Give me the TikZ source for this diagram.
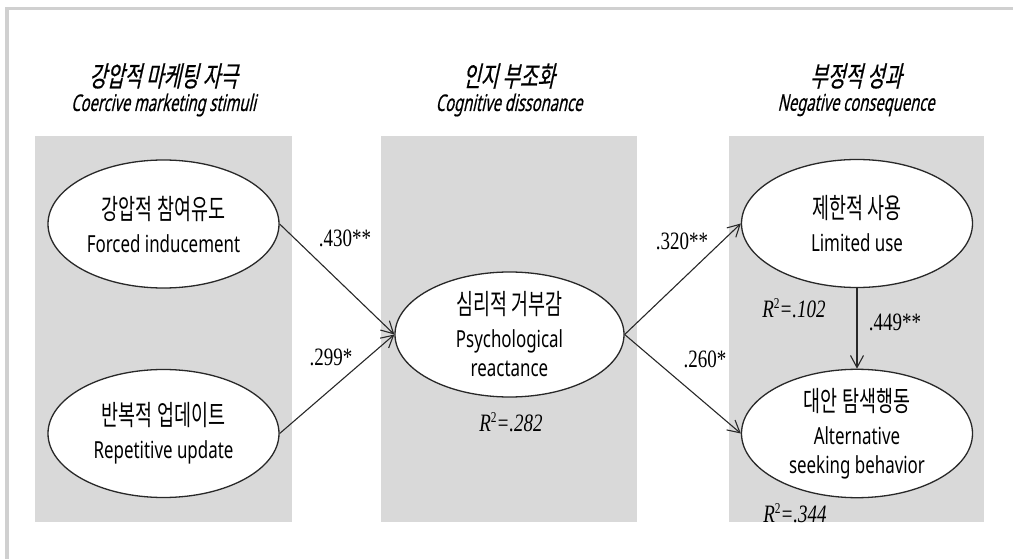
\documentclass[tikz,border=0pt]{standalone}
\usepackage{fontspec}
\usetikzlibrary{shapes.geometric,arrows.meta}
\newfontfamily\krfont[FakeStretch=0.66]{Noto Sans CJK KR}
\newfontfamily\enfont[FakeStretch=0.72]{Noto Sans}
\newfontfamily\krtitle[FakeStretch=0.68,FakeSlant=0.22,FakeBold=0.6]{Noto Sans CJK KR}
\newfontfamily\entitle[FakeStretch=0.64,FakeSlant=0.22,FakeBold=0.5]{Noto Sans}
\newfontfamily\coeffont[FakeStretch=0.76]{Liberation Serif}
\definecolor{panelgray}{RGB}{217,217,217}
\definecolor{framegray}{RGB}{208,208,208}
\definecolor{inkgray}{RGB}{40,40,40}
\newcommand{\rsq}[1]{{\coeffont\itshape R}\raisebox{0.38em}{\coeffont\fontsize{15}{15}\selectfont 2}{\coeffont\itshape =.#1}}
\begin{document}
\begin{tikzpicture}[x=1pt,y=-1pt,
  construct/.style={ellipse,draw=inkgray,line width=1.3pt,fill=white,
    minimum width=231pt,minimum height=128pt,inner sep=0pt,align=center,
    font=\enfont\fontsize{23.5}{29}\selectfont},
  path/.style={draw=inkgray,line width=1.1pt,-{Straight Barb[length=12pt,width=13pt,line width=1.1pt]}},
  coef/.style={font=\coeffont\fontsize{25}{25}\selectfont,inner sep=0pt},
  rlab/.style={font=\fontsize{25}{25}\selectfont,inner sep=0pt},
  panel/.style={fill=panelgray,draw=none},
  ktitle/.style={font=\krtitle\fontsize{28}{28}\selectfont,inner sep=0pt},
  etitle/.style={font=\entitle\fontsize{23}{23}\selectfont,inner sep=0pt}]
\useasboundingbox (0,0) rectangle (1013,559);
\clip (0,0) rectangle (1013,559);

% page frame (open towards the right and bottom)
\draw[framegray,line width=3.5pt] (7,570) -- (7,8.5) -- (1020,8.5);

% group panels
\fill[panel] (35,136) rectangle (292,522);
\fill[panel] (381,136) rectangle (637,522);
\fill[panel] (729,136) rectangle (984,522);

% group headings
\node[ktitle] (t1k) at (163.5,76) {강압적 마케팅 자극};
\node[etitle] (t1e) at (163.5,105) {Coercive marketing stimuli};
\node[ktitle] (t2k) at (509,76) {인지 부조화};
\node[etitle] (t2e) at (509,105) {Cognitive dissonance};
\node[ktitle] (t3k) at (856,76) {부정적 성과};
\node[etitle] (t3e) at (856,105) {Negative consequence};

% constructs
\node[construct] (force) at (163.5,224)
  {{\krfont\fontsize{28}{29}\selectfont 강압적 참여유도}\\[4pt]Forced inducement};
\node[construct] (repeat) at (163.5,433.5)
  {{\krfont\fontsize{28}{29}\selectfont 반복적 업데이트}\\[4pt]Repetitive update};
\node[construct,minimum width=229pt,minimum height=125pt] (react) at (509.5,334.5)
  {{\krfont\fontsize{28}{29}\selectfont 심리적 거부감}\\[4pt]Psychological\\reactance};
\node[construct] (limit) at (857,223.5)
  {{\krfont\fontsize{28}{29}\selectfont 제한적 사용}\\[4pt]Limited use};
\node[construct] (alt) at (857,433.5)
  {{\krfont\fontsize{28}{29}\selectfont 대안 탐색행동}\\[4pt]Alternative\\seeking behavior};

% structural paths
\draw[path] (force.east) -- (react.west);
\draw[path] (repeat.east) -- (react.west);
\draw[path] (react.east) -- (limit.west);
\draw[path] (react.east) -- (alt.west);
\draw[path] (limit.south) -- (alt.north);

% path coefficients
\node[coef] (c1) at (345,238) {.430**};
\node[coef] (c2) at (331,357) {.299*};
\node[coef] (c3) at (682,241) {.320**};
\node[coef] (c4) at (705,359) {.260*};
\node[coef] (c5) at (895,322) {.449**};

% explained variance
\node[rlab] (r1) at (511,422) {\rsq{282}};
\node[rlab] (r2) at (794,308) {\rsq{102}};
\node[rlab] (r3) at (795,513) {\rsq{344}};
\end{tikzpicture}
\end{document}
